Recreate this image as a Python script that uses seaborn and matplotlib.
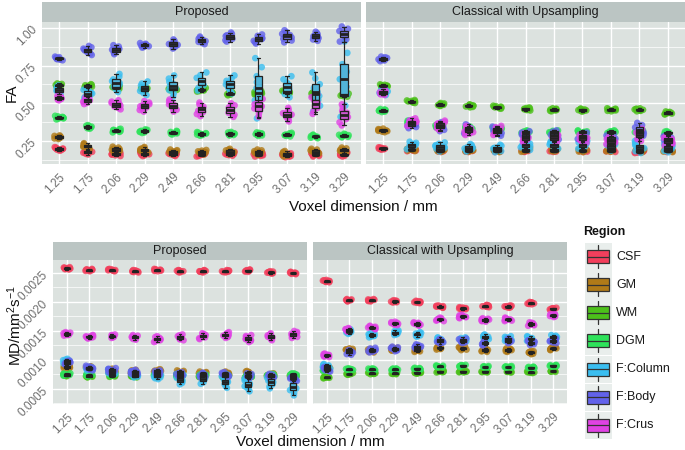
import numpy as np
import pandas as pd
import matplotlib
matplotlib.use("Agg")
import matplotlib.pyplot as plt
import seaborn as sns
from matplotlib.patches import Rectangle
from matplotlib.lines import Line2D

# ---------------- data ----------------
voxel_dims = ["1.25", "1.75", "2.06", "2.29", "2.49", "2.66", "2.81", "2.95", "3.07", "3.19", "3.29"]
regions = ["CSF", "GM", "WM", "DGM", "F:Column", "F:Body", "F:Crus"]
region_colors = ["#F23F5C", "#B07A18", "#4CC01A", "#2EE25A", "#3ABEF0", "#6262EA", "#E042E4"]
methods = ["Proposed", "Classical with Upsampling"]

# FA, Proposed: medians and half-ranges
fa_prop_med = {
    "CSF":      [0.197, 0.175, 0.165, 0.165, 0.163, 0.160, 0.165, 0.160, 0.155, 0.160, 0.160],
    "GM":       [0.275, 0.215, 0.192, 0.192, 0.178, 0.175, 0.180, 0.175, 0.165, 0.180, 0.188],
    "WM":       [0.620, 0.615, 0.605, 0.595, 0.598, 0.590, 0.565, 0.570, 0.575, 0.560, 0.556],
    "DGM":      [0.405, 0.343, 0.319, 0.315, 0.305, 0.297, 0.298, 0.295, 0.292, 0.280, 0.286],
    "F:Column": [0.590, 0.565, 0.635, 0.600, 0.615, 0.645, 0.625, 0.600, 0.610, 0.575, 0.660],
    "F:Body":   [0.798, 0.851, 0.856, 0.885, 0.894, 0.918, 0.940, 0.927, 0.945, 0.945, 0.960],
    "F:Crus":   [0.535, 0.520, 0.490, 0.480, 0.485, 0.460, 0.455, 0.480, 0.425, 0.495, 0.423],
}
fa_prop_spr = {
    "CSF":      [0.012, 0.015, 0.015, 0.015, 0.013, 0.013, 0.013, 0.013, 0.013, 0.013, 0.013],
    "GM":       [0.012, 0.020, 0.020, 0.018, 0.015, 0.015, 0.018, 0.018, 0.018, 0.018, 0.018],
    "WM":       [0.012, 0.012, 0.012, 0.012, 0.012, 0.012, 0.012, 0.012, 0.012, 0.012, 0.012],
    "DGM":      [0.012, 0.012, 0.012, 0.012, 0.012, 0.012, 0.012, 0.012, 0.012, 0.012, 0.012],
    "F:Column": [0.030, 0.035, 0.060, 0.045, 0.070, 0.060, 0.060, 0.200, 0.070, 0.130, 0.250],
    "F:Body":   [0.012, 0.030, 0.030, 0.015, 0.030, 0.025, 0.030, 0.030, 0.040, 0.030, 0.050],
    "F:Crus":   [0.015, 0.025, 0.030, 0.035, 0.040, 0.045, 0.045, 0.070, 0.045, 0.065, 0.070],
}

# FA, Classical with Upsampling
fa_cls_med = {
    "CSF":      [0.200, 0.190, 0.185, 0.185, 0.185, 0.185, 0.185, 0.185, 0.185, 0.178, 0.185],
    "GM":       [0.320, 0.195, 0.190, 0.190, 0.188, 0.190, 0.192, 0.188, 0.190, 0.185, 0.188],
    "WM":       [0.616, 0.512, 0.492, 0.483, 0.474, 0.462, 0.457, 0.455, 0.457, 0.457, 0.436],
    "DGM":      [0.452, 0.375, 0.350, 0.335, 0.330, 0.310, 0.310, 0.310, 0.310, 0.310, 0.305],
    "F:Column": [0.575, 0.220, 0.210, 0.205, 0.200, 0.220, 0.220, 0.220, 0.215, 0.210, 0.205],
    "F:Body":   [0.795, 0.360, 0.345, 0.330, 0.315, 0.285, 0.290, 0.275, 0.265, 0.320, 0.260],
    "F:Crus":   [0.570, 0.375, 0.355, 0.320, 0.320, 0.270, 0.270, 0.270, 0.250, 0.290, 0.250],
}
fa_cls_spr = {
    "CSF":      [0.008] * 11,
    "GM":       [0.012] * 11,
    "WM":       [0.010] * 11,
    "DGM":      [0.010] * 11,
    "F:Column": [0.020, 0.025, 0.030, 0.025, 0.025, 0.030, 0.030, 0.030, 0.030, 0.040, 0.030],
    "F:Body":   [0.015, 0.025, 0.030, 0.030, 0.030, 0.030, 0.030, 0.030, 0.030, 0.050, 0.030],
    "F:Crus":   [0.015, 0.025, 0.030, 0.030, 0.030, 0.030, 0.030, 0.030, 0.030, 0.040, 0.030],
}

# MD, Proposed
md_prop_med = {
    "CSF":      [0.00258, 0.00255, 0.00255, 0.00253, 0.00255, 0.00253, 0.00253, 0.00253, 0.00254, 0.00251, 0.00250],
    "GM":       [0.00088, 0.00086, 0.00082, 0.00080, 0.00081, 0.00079, 0.00077, 0.00077, 0.00078, 0.00074, 0.00073],
    "WM":       [0.00074, 0.00072, 0.00073, 0.00072, 0.00072, 0.00072, 0.00072, 0.00072, 0.00071, 0.00072, 0.00072],
    "DGM":      [0.00075, 0.00074, 0.00075, 0.00074, 0.00075, 0.00074, 0.00074, 0.00074, 0.00073, 0.00074, 0.00075],
    "F:Column": [0.00098, 0.00085, 0.00080, 0.00075, 0.00072, 0.00066, 0.00068, 0.00062, 0.00057, 0.00062, 0.00054],
    "F:Body":   [0.00095, 0.00086, 0.00082, 0.00079, 0.00078, 0.00075, 0.00074, 0.00075, 0.00073, 0.00072, 0.00068],
    "F:Crus":   [0.00145, 0.00140, 0.00141, 0.00139, 0.00136, 0.00139, 0.00141, 0.00143, 0.00137, 0.00140, 0.00144],
}
md_prop_spr = {
    "CSF":      [0.00002] * 11,
    "GM":       [0.00003] * 11,
    "WM":       [0.00002] * 11,
    "DGM":      [0.00002] * 11,
    "F:Column": [0.00004, 0.00003, 0.00004, 0.00005, 0.00005, 0.00008, 0.00009, 0.00010, 0.00011, 0.00011, 0.00015],
    "F:Body":   [0.00004] * 11,
    "F:Crus":   [0.00003, 0.00003, 0.00003, 0.00004, 0.00005, 0.00005, 0.00005, 0.00005, 0.00006, 0.00006, 0.00006],
}

# MD, Classical with Upsampling
md_cls_med = {
    "CSF":      [0.00236, 0.00203, 0.00203, 0.00201, 0.00200, 0.00192, 0.00189, 0.00193, 0.00192, 0.00198, 0.00188],
    "GM":       [0.00086, 0.00117, 0.00116, 0.00119, 0.00117, 0.00121, 0.00120, 0.00117, 0.00117, 0.00113, 0.00120],
    "WM":       [0.00070, 0.00076, 0.00077, 0.00077, 0.00078, 0.00080, 0.00080, 0.00080, 0.00080, 0.00079, 0.00081],
    "DGM":      [0.00083, 0.00084, 0.00084, 0.00084, 0.00085, 0.00089, 0.00090, 0.00088, 0.00088, 0.00087, 0.00090],
    "F:Column": [0.00089, 0.00149, 0.00143, 0.00147, 0.00144, 0.00135, 0.00135, 0.00140, 0.00137, 0.00137, 0.00139],
    "F:Body":   [0.00084, 0.00113, 0.00117, 0.00119, 0.00123, 0.00132, 0.00133, 0.00129, 0.00133, 0.00130, 0.00133],
    "F:Crus":   [0.00108, 0.00152, 0.00156, 0.00163, 0.00162, 0.00170, 0.00175, 0.00169, 0.00170, 0.00162, 0.00177],
}
md_cls_spr = {
    "CSF":      [0.00002] * 11,
    "GM":       [0.00003] * 11,
    "WM":       [0.000015] * 11,
    "DGM":      [0.000015] * 11,
    "F:Column": [0.00004] * 11,
    "F:Body":   [0.00004] * 11,
    "F:Crus":   [0.00003] * 11,
}

# relative sample positions within each box's range (shape of the distribution)
sample_offsets = np.array([-1.0, -0.7, -0.4, -0.2, 0.0, 0.2, 0.4, 0.7, 1.0])


def build_frame(med, spr):
    rows = []
    for r in regions:
        for i, v in enumerate(voxel_dims):
            for o in sample_offsets:
                rows.append((v, r, med[r][i] + o * spr[r][i]))
    return pd.DataFrame(rows, columns=["voxel", "region", "value"])


# ---------------- style ----------------
sns.set_style("white")
plt.rcParams["font.family"] = ["Liberation Sans", "DejaVu Sans"]
plt.rcParams["mathtext.default"] = "regular"

PANEL_BG = "#DCE2DF"
STRIP_BG = "#BBC5C3"
TICK_COL = "#6E6E6E"
W, H = 685, 450

fig = plt.figure(figsize=(W / 100, H / 100), dpi=100)


def add_px_axes(l, t, r, b):
    return fig.add_axes([l / W, 1 - b / H, (r - l) / W, (b - t) / H])


palette = dict(zip(regions, region_colors))
np.random.seed(3)


def draw_panel(box, strip_box, df, title, ylim, yticks, yminor, ylabels, show_y):
    ax = add_px_axes(*box)
    ax.set_facecolor(PANEL_BG)
    ax.set_axisbelow(True)
    sns.stripplot(data=df, x="voxel", y="value", hue="region", order=voxel_dims,
                  hue_order=regions, palette=palette, dodge=False, jitter=0.17,
                  size=4.8, alpha=0.8, linewidth=0, legend=False, ax=ax, zorder=1)
    sns.boxplot(data=df, x="voxel", y="value", hue="region", order=voxel_dims,
                hue_order=regions, palette=palette, dodge=False, width=0.26,
                linecolor="#222222", linewidth=0.9, fliersize=0, legend=False,
                medianprops={"linewidth": 2.0, "color": "#222222"}, ax=ax)
    ax.set_xlim(-0.6, len(voxel_dims) - 0.4)
    ax.set_ylim(*ylim)
    ax.set_yticks(yticks)
    ax.set_yticks(yminor, minor=True)
    ax.grid(True, which="major", axis="both", color="white", linewidth=1.0)
    ax.grid(True, which="minor", axis="y", color="white", linewidth=0.5)
    for s in ax.spines.values():
        s.set_visible(False)
    ax.set_xlabel("")
    ax.set_ylabel("")
    ax.tick_params(axis="x", which="major", length=3, width=0.6, color=TICK_COL,
                   labelcolor=TICK_COL, labelsize=8.5, pad=2)
    plt.setp(ax.get_xticklabels(), rotation=45, ha="right", va="top",
             rotation_mode="anchor")
    ax.tick_params(axis="y", which="minor", length=0)
    if show_y:
        ax.set_yticklabels(ylabels)
        ax.tick_params(axis="y", which="major", length=3, width=0.6, color=TICK_COL,
                       labelcolor=TICK_COL, labelsize=8.5, pad=2)
        plt.setp(ax.get_yticklabels(), rotation=45, ha="right", va="center",
                 rotation_mode="anchor")
    else:
        ax.tick_params(axis="y", which="major", length=0, labelleft=False)
    sax = add_px_axes(*strip_box)
    sax.set_facecolor(STRIP_BG)
    sax.set_xticks([])
    sax.set_yticks([])
    for s in sax.spines.values():
        s.set_visible(False)
    sax.text(0.5, 0.5, title, ha="center", va="center", fontsize=9,
             color="#1A1A1A", transform=sax.transAxes)
    return ax


fa_ticks = [0.25, 0.50, 0.75, 1.00]
fa_minor = [0.125, 0.375, 0.625, 0.875]
fa_labels = ["0.25", "0.50", "0.75", "1.00"]
md_ticks = [0.0005, 0.0010, 0.0015, 0.0020, 0.0025]
md_minor = [0.00025, 0.00075, 0.00125, 0.00175, 0.00225]
md_labels = ["0.0005", "0.0010", "0.0015", "0.0020", "0.0025"]
fa_lim = (0.097, 1.04)
md_lim = (0.000241, 0.002724)

draw_panel((42, 22, 361, 164), (42, 2, 361, 22), build_frame(fa_prop_med, fa_prop_spr),
           methods[0], fa_lim, fa_ticks, fa_minor, fa_labels, True)
draw_panel((366, 22, 685, 164), (366, 2, 685, 22), build_frame(fa_cls_med, fa_cls_spr),
           methods[1], fa_lim, fa_ticks, fa_minor, fa_labels, False)
draw_panel((53, 260, 307, 404), (53, 242, 307, 260), build_frame(md_prop_med, md_prop_spr),
           methods[0], md_lim, md_ticks, md_minor, md_labels, True)
draw_panel((313, 260, 567, 404), (313, 242, 567, 260), build_frame(md_cls_med, md_cls_spr),
           methods[1], md_lim, md_ticks, md_minor, md_labels, False)

# overlay in pixel coordinates for titles and legend
ov = fig.add_axes([0, 0, 1, 1], facecolor="none")
ov.set_xlim(0, W)
ov.set_ylim(H, 0)
ov.axis("off")

ov.text(12, 93, "FA", rotation=90, ha="center", va="center", fontsize=11, color="#111111")
ov.text(363, 207, "Voxel dimension / mm", ha="center", va="center", fontsize=11, color="#111111")
ov.text(15, 325, "MD/mm$^2$s$^{-1}$", rotation=90, ha="center", va="center", fontsize=11, color="#111111")
ov.text(310, 442, "Voxel dimension / mm", ha="center", va="center", fontsize=11, color="#111111")

ov.text(583, 232, "Region", ha="left", va="center", fontsize=9, fontweight="bold", color="#111111")
for i, (r, c) in enumerate(zip(regions, region_colors)):
    cy = 256.6 + i * 28.1
    ov.add_patch(Rectangle((585, cy - 13.5), 27.5, 27.5, facecolor="#E9EEEC", edgecolor="none"))
    ov.add_patch(Rectangle((587.5, cy - 6.5), 22, 13, facecolor=c, edgecolor="#333333", linewidth=0.9))
    ov.add_line(Line2D([587.5, 609.5], [cy, cy], color="#333333", linewidth=0.9))
    ov.add_line(Line2D([598.5, 598.5], [cy - 11.5, cy - 6.5], color="#333333", linewidth=0.9))
    ov.add_line(Line2D([598.5, 598.5], [cy + 6.5, cy + 11.5], color="#333333", linewidth=0.9))
    ov.text(616, cy, r, ha="left", va="center", fontsize=9, color="#1A1A1A")

fig.savefig("out.png", dpi=100)
